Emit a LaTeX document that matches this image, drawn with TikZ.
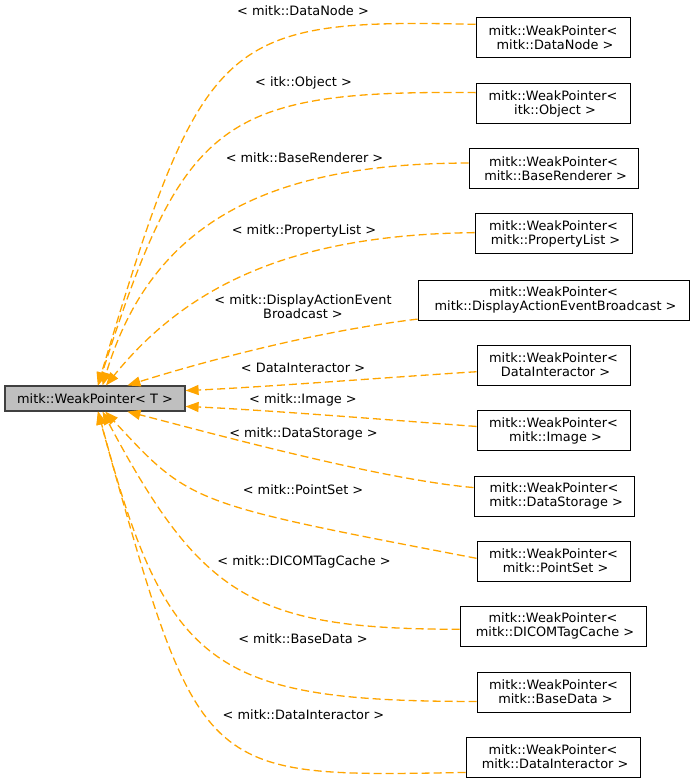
\documentclass[tikz,border=0pt]{standalone}
\usepackage{fontspec}
\setmainfont{DejaVu Sans}
\usetikzlibrary{arrows.meta}
\definecolor{edgeorange}{HTML}{FFA500}

\begin{document}
\begin{tikzpicture}[x=1pt, y=-1pt,
  every node/.style={font=\fontsize{12.9}{14}\selectfont, inner sep=0pt},
  classbox/.style={draw=black, fill=white, minimum height=40pt, align=center, line width=1pt},
  rootbox/.style={draw=black!75, fill=black!25, minimum width=180pt, minimum height=25pt, line width=1.2pt},
  inherit/.style={draw=edgeorange, line width=1.3pt, dash pattern=on 8pt off 4pt, -{Triangle[length=13pt,width=10pt,fill=edgeorange]}},
  lbl/.style={align=center}]
\useasboundingbox (0,0) rectangle (695,783);
\node[rootbox] (W0) at (95,398.5) {mitk::WeakPointer< T >};
\node[classbox, minimum width=154pt] (W1) at (553,38) {mitk::WeakPointer<\\\ mitk::DataNode >};
\node[classbox, minimum width=154pt] (W2) at (553,103.5) {mitk::WeakPointer<\\\ itk::Object >};
\node[classbox, minimum width=169pt] (W3) at (553.5,169) {mitk::WeakPointer<\\\ mitk::BaseRenderer >};
\node[classbox, minimum width=157pt] (W4) at (553.5,234) {mitk::WeakPointer<\\\ mitk::PropertyList >};
\node[classbox, minimum width=271pt] (W5) at (553.5,300) {mitk::WeakPointer<\\\ mitk::DisplayActionEventBroadcast >};
\node[classbox, minimum width=153pt] (W6) at (553.5,365) {mitk::WeakPointer<\\\ DataInteractor >};
\node[classbox, minimum width=153pt] (W7) at (553.5,430.5) {mitk::WeakPointer<\\\ mitk::Image >};
\node[classbox, minimum width=160pt] (W8) at (554,496) {mitk::WeakPointer<\\\ mitk::DataStorage >};
\node[classbox, minimum width=153pt] (W9) at (553.5,561) {mitk::WeakPointer<\\\ mitk::PointSet >};
\node[classbox, minimum width=186pt] (W10) at (553,626) {mitk::WeakPointer<\\\ mitk::DICOMTagCache >};
\node[classbox, minimum width=153pt] (W11) at (553.5,692) {mitk::WeakPointer<\\\ mitk::BaseData >};
\node[classbox, minimum width=174pt] (W12) at (553,757) {mitk::WeakPointer<\\\ mitk::DataInteractor >};
\node[lbl] (L1) at (303,11) {< mitk::DataNode >};
\node[lbl] (L2) at (303.5,83) {< itk::Object >};
\node[lbl] (L3) at (304.5,158) {< mitk::BaseRenderer >};
\node[lbl] (L4) at (304,231) {< mitk::PropertyList >};
\node[lbl] (L5) at (303,307) {< mitk::DisplayActionEvent\\Broadcast >};
\node[lbl] (L6) at (303,368) {< DataInteractor >};
\node[lbl] (L7) at (303,400) {< mitk::Image >};
\node[lbl] (L8) at (303.5,434) {< mitk::DataStorage >};
\node[lbl] (L9) at (303,490) {< mitk::PointSet >};
\node[lbl] (L10) at (304,562) {< mitk::DICOMTagCache >};
\node[lbl] (L11) at (303,639) {< mitk::BaseData >};
\node[lbl] (L12) at (303.5,715) {< mitk::DataInteractor >};
\draw[inherit] (W1.170) .. controls +(-255,-6) and +(105,-350) .. (W0.78);
\draw[inherit] (W2.172) .. controls +(-255,-2.5) and +(85,-266) .. (W0.76);
\draw[inherit] (W3.176) .. controls +(-210,0) and +(47,-156) .. (W0.60);
\draw[inherit] (W4.179) .. controls +(-174,2) and +(85,-105) .. (W0.50);
\draw[inherit] (W5.188) .. controls +(-100,12) and +(80,-25) .. (W0.22);
\draw[inherit] (W6.185) .. controls +(-80,5) and +(80,-3.6) .. (W0.5);
\draw[inherit] (W7.177) .. controls +(-80,-6) and +(80,3.6) .. (W0.-5);
\draw[inherit] (W8.174) .. controls +(-94,-8) and +(74,19) .. (W0.-22);
\draw[inherit] (W9.178) .. controls +(-287,-55) and +(85,92) .. (W0.-52);
\draw[inherit] (W10.182.5) .. controls +(-206,0) and +(99,186) .. (W0.-60);
\draw[inherit] (W11.187.5) .. controls +(-265,0) and +(68,256) .. (W0.-76);
\draw[inherit] (W12.190) .. controls +(-267,5) and +(102,367) .. (W0.-78);
\end{tikzpicture}
\end{document}
